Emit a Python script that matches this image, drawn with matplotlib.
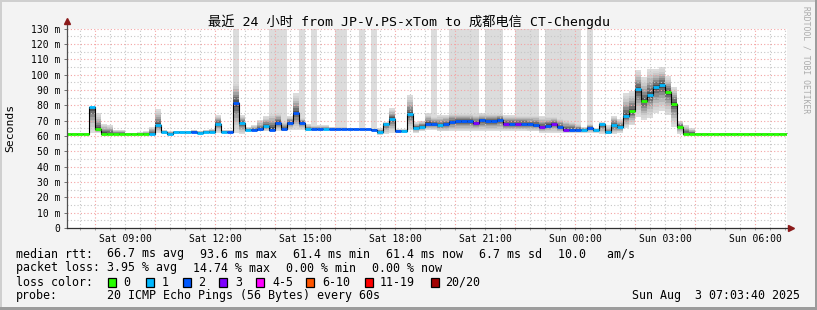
import numpy as np
import matplotlib.pyplot as plt
from matplotlib.patches import Rectangle

W, H = 817, 310
MONO = ['DejaVu Sans Mono', 'Noto Sans CJK SC']

title = '最近 24 小时 from JP-V.PS-xTom to 成都电信 CT-Chengdu'

# 12 minute steps, first one starts Sat 07:00 (hours counted from Sat 00:00)
step_hours = 0.2
first_step = 7.0

# median rtt per step (ms)
median = [61.4, 61.4, 61.4, 61.4,
          78.7, 64.4, 61.5, 61.5, 61.5, 61.5, 61.5, 61.5, 61.5, 61.5,
          61.6, 67.2, 62.4, 61.6, 62.4, 62.4, 62.4, 62.8, 62.2, 62.8,
          62.8, 68.1, 62.8, 62.4, 81.5, 68.5, 64.1, 64.1, 64.5, 66.5,
          64.1, 68.7, 64.3, 68.7, 74.8, 68.7, 64.3, 64.3, 64.4, 64.4,
          64.4, 64.4, 64.4, 64.4, 64.4, 64.4, 64.4, 64.2, 62.8, 68.0,
          71.3, 63.3, 63.3, 74.1, 65.4, 66.1, 68.0, 67.6, 67.0, 67.6,
          69.3, 69.5, 69.5, 69.5, 68.4, 70.2, 69.8, 69.8, 70.5, 68.0,
          68.0, 68.0, 68.0, 67.6, 67.2, 65.9, 66.8, 68.0, 65.9, 64.1,
          64.1, 64.1, 64.1, 65.4, 63.7, 67.6, 62.4, 67.2, 65.9, 73.3,
          76.3, 90.5, 82.8, 86.8, 92.0, 93.3, 88.9, 81.1, 66.1, 61.6,
          61.4, 61.4, 61.4, 61.4, 61.4, 61.4, 61.4, 61.4, 61.4, 61.4,
          61.4, 61.4, 61.4, 61.4, 61.4, 61.4, 61.4]

# lost pings (of 20) per step
loss = [0, 0, 0, 0,
        1, 0, 0, 0, 0, 0, 0, 0, 0, 0,
        1, 1, 1, 1, 1, 1, 1, 2, 1, 1,
        1, 1, 1, 2, 2, 1, 1, 2, 2, 1,
        2, 2, 2, 2, 2, 2, 1, 2, 2, 1,
        2, 2, 2, 2, 2, 2, 2, 2, 1, 1,
        1, 2, 1, 1, 1, 1, 2, 2, 1, 2,
        2, 2, 2, 2, 3, 2, 2, 2, 2, 3,
        2, 3, 2, 2, 2, 3, 2, 3, 2, 3,
        2, 2, 1, 2, 1, 1, 1, 1, 1, 1,
        0, 1, 0, 1, 1, 1, 0, 0, 0, 0,
        0, 0, 0, 0, 0, 0, 0, 0, 0, 0,
        0, 0, 0, 0, 0, 0, 0]

# smoke extent per step (ms)
smoke_lo = [61, 61, 61, 61,
            62, 62, 61, 61, 61, 61, 61, 61, 61, 61,
            61, 62, 61.5, 61, 61.5, 61.5, 61.5, 62, 61.5, 62,
            62, 62, 62, 62, 62, 61, 63, 63, 63, 63,
            63, 63, 63, 64, 64, 64, 63.5, 63.5, 64, 64,
            64, 64, 64, 64, 64, 64, 64, 63.5, 60.5, 61,
            62, 62, 62, 64, 62, 63, 64, 64, 63, 63,
            63, 63, 63, 63, 63, 63, 63, 63, 63, 63,
            63, 63, 63, 63, 63, 62, 62, 62, 62, 62,
            62, 62, 62, 62, 62, 61, 61, 61, 62, 65,
            67, 72.6, 70.4, 72, 75, 76, 74, 66, 61.6, 61,
            61, 61, 61, 61, 61, 61, 61, 61, 61, 61,
            61, 61, 61, 61, 61, 61, 61]
smoke_hi = [62, 62, 62, 62,
            79, 75, 68, 67.5, 64, 64, 62, 62, 62.5, 63,
            66, 77.6, 64, 63, 63.5, 63.5, 63.5, 64, 63.5, 64,
            64.5, 73.7, 64, 64, 96, 74, 66, 67, 70.4, 73,
            76, 75.6, 70, 73, 87.8, 72, 68, 67, 67, 67,
            66, 66, 66, 65.5, 65.5, 65, 65, 65, 65, 69,
            78, 64.5, 64.5, 86.7, 69, 70, 75, 73, 74, 74,
            75, 75, 75, 75, 75, 75, 75, 75, 75, 74,
            74, 74, 74, 74, 74, 73, 73, 73, 72, 71,
            70, 68, 66, 68, 65, 69, 67, 73.3, 71, 87.8,
            89.4, 103, 98.7, 104, 104, 105, 99, 92, 70, 67,
            65, 62, 62, 62, 62, 62, 62, 62, 62, 62,
            62, 62, 62, 62, 62, 62, 62]

# steps whose slowest ping runs off the top of the graph
tall_steps = [28, 34, 35, 36, 39, 41, 45, 46, 49, 51, 61, 64, 65, 66, 67, 68,
              70, 71, 72, 75, 76, 77, 78, 80, 81, 82, 83, 84, 85, 87]

loss_keys = [0, 1, 2, 3, 4, 6, 11, 20]
loss_names = ['0', '1', '2', '3', '4-5', '6-10', '11-19', '20/20']
loss_colors = ['#26ff00', '#00b8ff', '#0059ff', '#7e00ff', '#ff00ff', '#ff5500', '#ff0000', '#a10000']

xtick_hours = [9, 12, 15, 18, 21, 24, 27, 30]
xtick_labels = ['Sat 09:00', 'Sat 12:00', 'Sat 15:00', 'Sat 18:00',
                'Sat 21:00', 'Sun 00:00', 'Sun 03:00', 'Sun 06:00']
ytick_vals = [0, 10, 20, 30, 40, 50, 60, 70, 80, 90, 100, 110, 120, 130]
ytick_labels = ['0'] + ['%d m' % v for v in ytick_vals[1:]]

t_lo, t_hi = 7.0611, 31.0611

med = np.array(median)
lo = np.array(smoke_lo)
hi = np.array(smoke_hi)
tall = np.zeros(len(med), dtype=bool)
tall[tall_steps] = True
starts = first_step + step_hours * np.arange(len(med))
edges = np.append(starts, starts[-1] + step_hours)


def ext(a):
    return np.append(a, a[-1])


fig = plt.figure(figsize=(W / 100, H / 100), dpi=100, facecolor='#f3f3f3')
ax = fig.add_axes([66.8 / W, 82 / H, 720 / W, 199.3 / H])
ax.set_facecolor('white')
ax.set_xlim(t_lo, t_hi)
ax.set_ylim(0, 130)

# smoke, light outside to dark near the median
n_bands = 8
for j in range(n_bands):
    f = j / n_bands
    lower = lo + (med - lo) * f
    upper = hi - (hi - med) * f
    if j == 0:
        upper = np.where(tall, 135, hi)
    g = int(0xdc - (0xdc - 0x50) * (j / (n_bands - 1)) ** 1.6)
    ax.fill_between(edges, ext(lower), ext(upper), step='post',
                    color='#%02x%02x%02x' % (g, g, g), lw=0, zorder=1)

# grid
for h in np.arange(7.5, 31.01, 0.5):
    if h % 2 == 0:
        ax.axvline(h, color='#f4a3a3', lw=0.8, ls=(0, (1, 2)), zorder=2)
    else:
        ax.axvline(h, color='#c6c6c6', lw=0.8, ls=(0, (1, 2)), zorder=2)
for v in range(5, 131, 5):
    if v % 10 == 0:
        ax.axhline(v, color='#f4a3a3', lw=0.8, ls=(0, (1, 2)), zorder=2)
    else:
        ax.axhline(v, color='#c6c6c6', lw=0.8, ls=(0, (1, 2)), zorder=2)

# median line with loss colour
ax.step(edges, ext(med), where='post', color='black', lw=0.8, zorder=3)
seg_colors = [loss_colors[max(i for i, k in enumerate(loss_keys) if k <= n)] for n in loss]
ax.hlines(med, starts, starts + step_hours, colors=seg_colors, lw=2.0, zorder=4)

for s in ax.spines.values():
    s.set_visible(False)
ax.plot([t_lo, t_lo], [0, 134.5], color='#505050', lw=0.9, clip_on=False, zorder=5)
ax.plot([t_lo, t_hi + 0.1], [0, 0], color='#303030', lw=0.9, clip_on=False, zorder=5)
ax.plot([t_lo], [134.8], marker='^', ms=5, color='#8b1a1a', clip_on=False, zorder=6)
ax.plot([t_hi + 0.13], [0], marker='>', ms=5, color='#8b1a1a', clip_on=False, zorder=6)

ax.set_yticks(ytick_vals)
ax.set_yticklabels(ytick_labels, family='DejaVu Sans Mono', fontsize=7)
ax.set_xticks(xtick_hours)
ax.set_xticklabels(xtick_labels, family='DejaVu Sans Mono', fontsize=7)
ax.set_xticks(np.arange(7.5, 31.01, 0.5), minor=True)
ax.tick_params(axis='y', length=2, width=0.7, color='#707070', pad=2.8)
ax.tick_params(axis='x', which='both', length=1.5, width=0.7, color='#a0a0a0', pad=2.6)

fig.text(0.5, 1 - 21.5 / H, title, ha='center', va='center', fontsize=9.5, family=MONO)
fig.text(10 / W, 1 - 128 / H, 'Seconds', rotation=90, ha='center', va='center',
         fontsize=8.2, family=MONO)
fig.text(806 / W, 1 - 60 / H, 'RRDTOOL / TOBI OETIKER', rotation=270, ha='center',
         va='center', fontsize=5.8, color='#aaaaaa', family=MONO)


def ftext(x, y, s, **kw):
    fig.text(x / W, 1 - y / H, s, ha='left', va='center', fontsize=8.4, family=MONO, **kw)


ftext(16, 254, 'median rtt:')
ftext(107, 254, '66.7 ms avg')
ftext(200, 254, '93.6 ms max')
ftext(293, 254, '61.4 ms min')
ftext(386, 254, '61.4 ms now')
ftext(479, 254, '6.7 ms sd')
ftext(558, 254, '10.0   am/s')

ftext(16, 268, 'packet loss:')
ftext(107, 268, '3.95 % avg')
ftext(193, 268, '14.74 % max')
ftext(286, 268, '0.00 % min')
ftext(372, 268, '0.00 % now')

ftext(16, 282, 'loss color:')
box_x = [108, 146, 183, 219, 256, 306, 365, 431]
name_x = [123, 162, 198, 235, 272, 322, 380, 445]
for bx, nx, name, col in zip(box_x, name_x, loss_names, loss_colors):
    fig.add_artist(Rectangle((bx / W, 1 - 287 / H), 8 / W, 9 / H, transform=fig.transFigure,
                             facecolor=col, edgecolor='black', lw=0.9))
    ftext(nx, 282, name)

ftext(16, 296, 'probe:')
ftext(107, 296, '20 ICMP Echo Pings (56 Bytes) every 60s')
fig.text(800 / W, 1 - 296 / H, 'Sun Aug  3 07:03:40 2025', ha='right', va='center',
         fontsize=8.4, family=MONO)

# frame
fig.add_artist(Rectangle((0, 1 - 2 / H), 1, 2 / H, transform=fig.transFigure, fc='#cfcfcf', lw=0))
fig.add_artist(Rectangle((0, 0), 2 / W, 1, transform=fig.transFigure, fc='#cfcfcf', lw=0))
fig.add_artist(Rectangle((0, 0), 1, 3 / H, transform=fig.transFigure, fc='#9c9c9c', lw=0))
fig.add_artist(Rectangle((1 - 2 / W, 0), 2 / W, 1, transform=fig.transFigure, fc='#9c9c9c', lw=0))

fig.savefig('out.png', dpi=100, facecolor=fig.get_facecolor())
